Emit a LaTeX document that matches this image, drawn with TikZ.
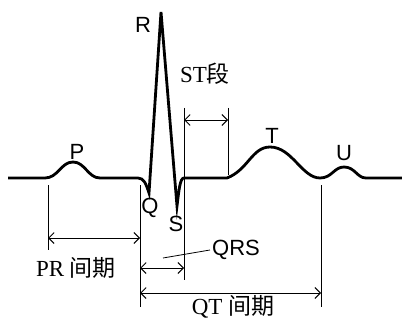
\documentclass[tikz,border=0pt]{standalone}
\usepackage{fontspec}
\setmainfont{Liberation Serif}
\setsansfont{Liberation Sans}
\newfontfamily\cjk{Noto Sans CJK SC}
\usetikzlibrary{arrows.meta}
\begin{document}
\begin{tikzpicture}[x=1pt,y=-1pt,
  trace/.style={line width=2.8pt},
  guide/.style={line width=0.8pt},
  dim/.style={line width=0.9pt,{Straight Barb[length=5.5pt,width=11pt]}-{Straight Barb[length=5.5pt,width=11pt]}},
  wlabel/.style={font=\sffamily\fontsize{22}{24}\selectfont,inner sep=0pt},
  tlabel/.style={font=\rmfamily\fontsize{23}{25}\selectfont,inner sep=0pt}]
\useasboundingbox (0,0) rectangle (402,321);
% trace key points
\coordinate (start) at (8,178);
\coordinate (pstart) at (45,178);
\coordinate (ppeak) at (73,162);
\coordinate (pend) at (100,178);
\coordinate (qstart) at (138,178);
\coordinate (qpt) at (149,193);
\coordinate (rpt) at (161,12);
\coordinate (spt) at (177,206);
\coordinate (send) at (184,178);
\coordinate (tstart) at (227,178);
\coordinate (tpeak) at (270,147);
\coordinate (tend) at (320,178);
\coordinate (upeak) at (344,167);
\coordinate (uend) at (366,178);
\coordinate (finish) at (402,178);
\draw[trace] (start) -- (pstart)
  .. controls (58,178) and (61,162) .. (ppeak)
  .. controls (85,162) and (88,178) .. (pend)
  -- (qstart) .. controls (144,178) and (146,184) .. (qpt)
  -- (rpt) -- (spt) .. controls (179,190) and (180,178) .. (send)
  -- (tstart) .. controls (248,170) and (252,147) .. (tpeak)
  .. controls (292,147) and (302,178) .. (tend)
  .. controls (332,178) and (334,167) .. (upeak)
  .. controls (355,167) and (357,178) .. (uend) -- (finish);
% guide lines
\coordinate (g1a) at (48,185); \coordinate (g1b) at (48,250);
\coordinate (g2a) at (140,185); \coordinate (g2b) at (140,307);
\coordinate (g3a) at (184,108); \coordinate (g3b) at (184,280);
\coordinate (g4a) at (228,108); \coordinate (g4b) at (228,175);
\coordinate (g5a) at (321,185); \coordinate (g5b) at (321,307);
\draw[guide] (g1a) -- (g1b);
\draw[guide] (g2a) -- (g2b);
\draw[guide] (g3a) -- (g3b);
\draw[guide] (g4a) -- (g4b);
\draw[guide] (g5a) -- (g5b);
% dimension arrows
\coordinate (st1) at (184,120); \coordinate (st2) at (228,120);
\coordinate (pr1) at (48,238); \coordinate (pr2) at (140,238);
\coordinate (qrs1) at (140,268); \coordinate (qrs2) at (184,268);
\coordinate (qt1) at (140,293); \coordinate (qt2) at (321,293);
\draw[dim] (st1) -- (st2);
\draw[dim] (pr1) -- (pr2);
\draw[dim] (qrs1) -- (qrs2);
\draw[dim] (qt1) -- (qt2);
% labels
\node[wlabel] (R) at (143,25) {R};
\node[wlabel] (P) at (77,152) {P};
\node[wlabel] (Q) at (150,208) {Q};
\node[wlabel] (S) at (176,224) {S};
\node[wlabel] (T) at (272,136) {T};
\node[wlabel] (U) at (344,153) {U};
\node[wlabel] (QRS) at (236,250) {QRS};
\node[tlabel] (ST) at (205,74) {ST{\cjk 段}};
\node[tlabel] (PR) at (76,268) {PR {\cjk 间期}};
\node[tlabel] (QT) at (233,307) {QT {\cjk 间期}};
\coordinate (lead) at (163,258);
\draw[guide] (lead) -- ([xshift=-2pt]QRS.west);
\end{tikzpicture}
\end{document}
